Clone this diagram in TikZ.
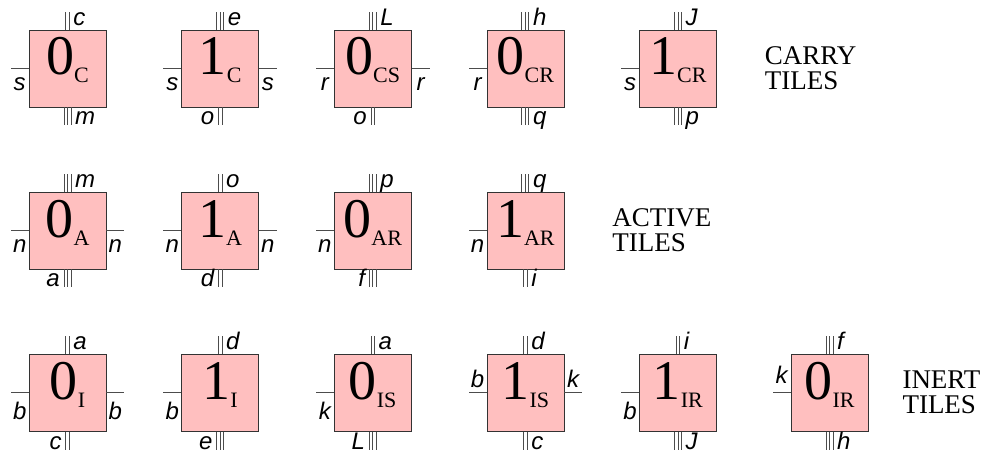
\documentclass[tikz,border=0pt]{standalone}
\usepackage{fontspec}
\setmainfont{Liberation Serif}
\setsansfont{Liberation Sans}
\usetikzlibrary{positioning}

% tile text: big digit with a lowered tag
\newcommand{\tilelab}[2]{{\fontsize{56}{56}\selectfont #1}\raisebox{-8pt}{\fontsize{22}{22}\selectfont #2}}

% vertical glues: tile, number of lines, label (, side of label)
\newcommand{\nglue}[3]{%
  \foreach \k in {1,...,#2}
    \draw[wire] ([xshift={(\k-(#2+1)/2)*3.5pt}]#1.north) -- ++(0,18);
  \node[glue, anchor=base west] (#1-n) at ([xshift={(#2-1)/2*3.5pt+4pt}, yshift=4pt]#1.north) {#3};
}
\newcommand{\sglue}[4]{%
  \foreach \k in {1,...,#2}
    \draw[wire] ([xshift={(\k-(#2+1)/2)*3.5pt}]#1.south) -- ++(0,-18);
  \if#4r
    \node[glue, anchor=base west] (#1-s) at ([xshift={(#2-1)/2*3.5pt+4pt}, yshift=-17.5pt]#1.south) {#3};
  \else
    \node[glue, anchor=base east] (#1-s) at ([xshift={-(#2-1)/2*3.5pt-4pt}, yshift=-17.5pt]#1.south) {#3};
  \fi
}
% horizontal glues: tile, label, placement of label
\newcommand{\wglue}[3]{%
  \draw[wire] (#1.west) -- ++(-18,0) node[glue, midway, #3] (#1-w) {#2};
}
\newcommand{\eglue}[3]{%
  \draw[wire] (#1.east) -- ++(18,0) node[glue, midway, #3] (#1-e) {#2};
}

\begin{document}
\begin{tikzpicture}[
    x=1pt, y=1pt,
    tile/.style={draw=black!80, fill=red!25, line width=0.6pt, minimum size=77pt, inner sep=0pt,
                 text height=20pt, text depth=7pt},
    wire/.style={draw=black!70, line width=0.7pt},
    glue/.style={inner sep=0pt, font=\fontsize{24}{24}\selectfont\sffamily\itshape},
    group/.style={inner sep=0pt, align=left, font=\fontsize{27}{25}\selectfont},
    node distance=75pt
]
\useasboundingbox (0,0) rectangle (982,453);

% carry tiles
\node[tile] (c0) at (67.5,384.5) {\tilelab{0}{C}};
\node[tile, right=of c0] (c1) {\tilelab{1}{C}};
\node[tile, right=of c1] (cs0) {\tilelab{0}{CS}};
\node[tile, right=of cs0] (cr0) {\tilelab{0}{CR}};
\node[tile, right=of cr0] (cr1) {\tilelab{1}{CR}};
\node[group, right=48pt of cr1] (carry) {CARRY\\TILES};

% active tiles
\node[tile, below=84.5pt of c0] (a0) {\tilelab{0}{A}};
\node[tile, right=of a0] (a1) {\tilelab{1}{A}};
\node[tile, right=of a1] (ar0) {\tilelab{0}{AR}};
\node[tile, right=of ar0] (ar1) {\tilelab{1}{AR}};
\node[group, right=48pt of ar1] (active) {ACTIVE\\TILES};

% inert tiles
\node[tile, below=84.5pt of a0] (i0) {\tilelab{0}{I}};
\node[tile, right=of i0] (i1) {\tilelab{1}{I}};
\node[tile, right=of i1] (is0) {\tilelab{0}{IS}};
\node[tile, right=of is0] (is1) {\tilelab{1}{IS}};
\node[tile, right=of is1] (ir1) {\tilelab{1}{IR}};
\node[tile, right=74pt of ir1] (ir0) {\tilelab{0}{IR}};
\node[group, right=34pt of ir0] (inert) {INERT\\TILES};

% glues
\nglue{c0}{2}{c}   \sglue{c0}{3}{m}{r}   \wglue{c0}{s}{below=9pt}
\nglue{c1}{3}{e}   \sglue{c1}{2}{o}{l}   \wglue{c1}{s}{below=9pt}  \eglue{c1}{s}{below=9pt}
\nglue{cs0}{3}{L}  \sglue{cs0}{2}{o}{l}  \wglue{cs0}{r}{below=9pt} \eglue{cs0}{r}{below=9pt}
\nglue{cr0}{3}{h}  \sglue{cr0}{3}{q}{r}  \wglue{cr0}{r}{below=9pt}
\nglue{cr1}{3}{J}  \sglue{cr1}{3}{p}{r}  \wglue{cr1}{s}{below=9pt}

\nglue{a0}{3}{m}   \sglue{a0}{3}{a}{l}   \wglue{a0}{n}{below=9pt}  \eglue{a0}{n}{below=9pt}
\nglue{a1}{2}{o}   \sglue{a1}{2}{d}{l}   \wglue{a1}{n}{below=9pt}  \eglue{a1}{n}{below=9pt}
\nglue{ar0}{3}{p}  \sglue{ar0}{3}{f}{l}  \wglue{ar0}{n}{below=9pt}
\nglue{ar1}{3}{q}  \sglue{ar1}{2}{i}{r}  \wglue{ar1}{n}{below=9pt}

\nglue{i0}{2}{a}   \sglue{i0}{2}{c}{l}   \wglue{i0}{b}{below=9pt}  \eglue{i0}{b}{below=9pt}
\nglue{i1}{2}{d}   \sglue{i1}{3}{e}{l}   \wglue{i1}{b}{below=9pt}
\nglue{is0}{2}{a}  \sglue{is0}{3}{L}{l}  \wglue{is0}{k}{below=9pt}
\nglue{is1}{2}{d}  \sglue{is1}{2}{c}{r}  \wglue{is1}{b}{above=5pt} \eglue{is1}{k}{above=5pt}
\nglue{ir1}{2}{i}  \sglue{ir1}{3}{J}{r}  \wglue{ir1}{b}{below=9pt}
\nglue{ir0}{3}{f}  \sglue{ir0}{3}{h}{r}  \wglue{ir0}{k}{above=9pt}
\end{tikzpicture}
\end{document}
